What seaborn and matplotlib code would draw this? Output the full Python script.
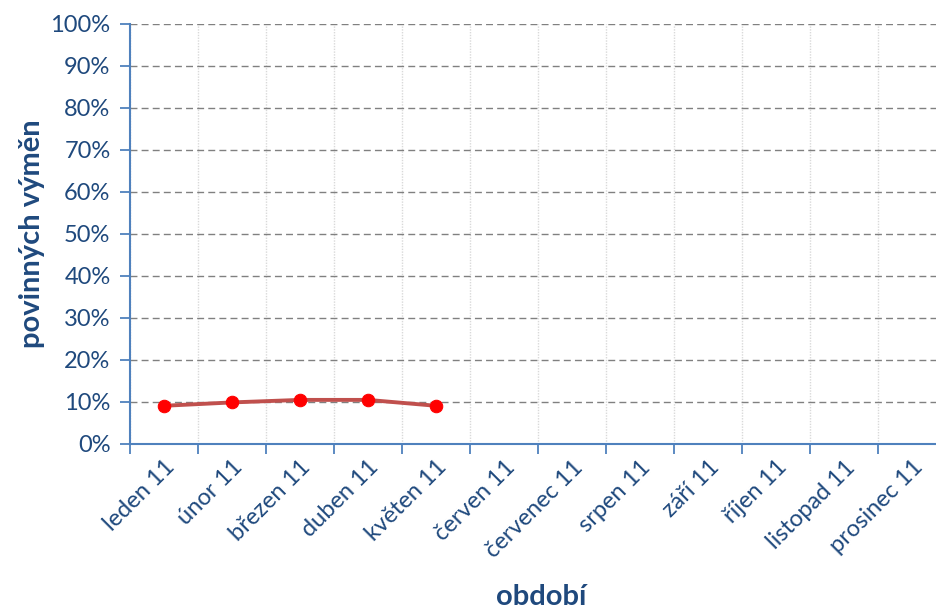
import numpy as np
import pandas as pd
import matplotlib
matplotlib.use('Agg')
import matplotlib.pyplot as plt
from matplotlib.ticker import FixedLocator, PercentFormatter
import seaborn as sns

months = ["leden 11", "únor 11", "březen 11", "duben 11", "květen 11", "červen 11",
          "červenec 11", "srpen 11", "září 11", "říjen 11", "listopad 11", "prosinec 11"]
values = [9.1, 9.9, 10.5, 10.5, 9.1]

sns.set_style("white")
plt.rcParams['font.family'] = ['Lato', 'DejaVu Sans']

text_col = "#1F497D"
axis_col = "#4F81BD"

df = pd.DataFrame({"pos": np.arange(len(values)), "value": values})

fig = plt.figure(figsize=(9.36, 6.1), dpi=100)
ax = fig.add_axes([130 / 936, 166 / 610, 806 / 936, 420 / 610])

sns.lineplot(data=df, x="pos", y="value", ax=ax, color="#C0504D", linewidth=2.8,
             marker="o", markersize=9, markerfacecolor="#FF0000",
             markeredgecolor="#FF0000", zorder=5)

ax.set_ylim(0, 100)
ax.set_xlim(-0.5, -0.5 + 806 / 68)

# y axis
ax.yaxis.set_major_locator(FixedLocator(np.arange(0, 101, 10)))
ax.yaxis.set_major_formatter(PercentFormatter(decimals=0))
ax.grid(axis="y", color="#808080", linestyle=(0, (5, 3)), linewidth=1)

# x axis: ticks at boundaries, labels at centers
ax.xaxis.set_major_locator(FixedLocator(np.arange(-0.5, 12, 1)))
ax.xaxis.set_minor_locator(FixedLocator(np.arange(len(months))))
ax.set_xticklabels([], minor=False)
ax.set_xticklabels(months, minor=True, rotation=45, ha="right", rotation_mode="anchor")
ax.grid(axis="x", which="major", color="#D9D9D9", linestyle=(0, (1, 1)), linewidth=1)

ax.tick_params(axis="x", which="major", direction="out", length=7, width=1.3,
               color=axis_col, bottom=True)
ax.tick_params(axis="x", which="minor", length=0, pad=9, labelsize=17, labelcolor=text_col)
ax.tick_params(axis="y", direction="out", length=7, width=1.3, color=axis_col,
               left=True, labelsize=17, labelcolor=text_col, pad=7)

for side in ["top", "right"]:
    ax.spines[side].set_visible(False)
for side in ["left", "bottom"]:
    ax.spines[side].set_color(axis_col)
    ax.spines[side].set_linewidth(1.5)

ax.set_xlabel("období", fontsize=21, fontweight="bold", color=text_col, va="center")
ax.set_ylabel("povinných výměn", fontsize=21, fontweight="bold", color=text_col, va="center")
ax.xaxis.set_label_coords(0.51, -0.364)
ax.yaxis.set_label_coords(-0.122, 0.5)

fig.savefig("out.png", dpi=100)
